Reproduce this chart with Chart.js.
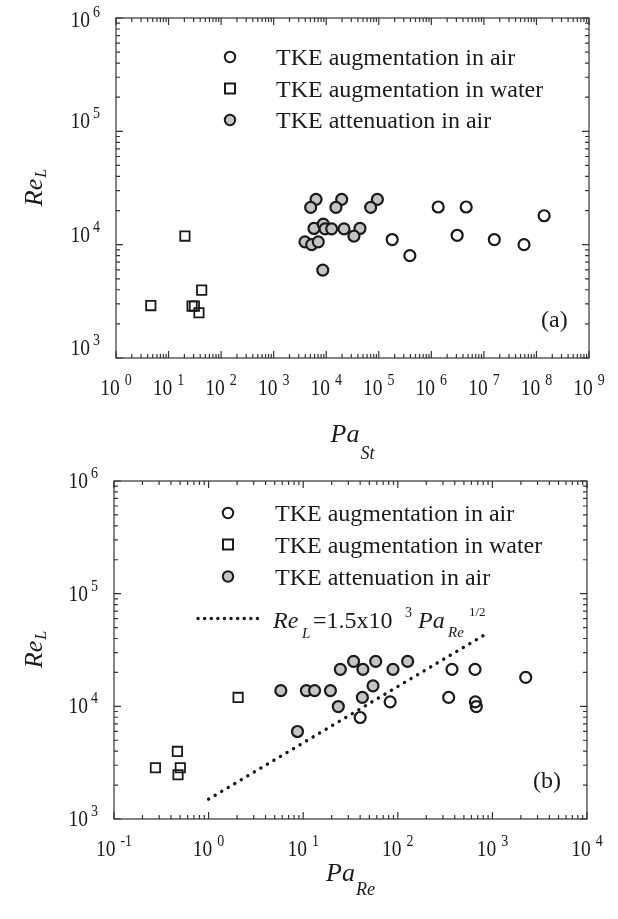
<!DOCTYPE html>
<html>
<head>
<meta charset="utf-8">
<script src="https://cdn.jsdelivr.net/npm/chart.js@4/dist/chart.umd.min.js"></script>
<style>
body { margin: 0; background: #fff; }
canvas { position: absolute; left: 0; }
</style>
</head>
<body>
<canvas id="chartA" width="618" height="460" style="top:0"></canvas>
<canvas id="chartB" width="618" height="459" style="top:460px"></canvas>
<script>
// panel (a): Re_L vs Pa_St
const aAirUpX = [1.8e5, 3.9e5, 1.35e6, 3.1e6, 4.6e6, 1.58e7, 5.8e7, 1.4e8];
const aAirUpY = [1.11e4, 8.0e3, 2.15e4, 1.21e4, 2.15e4, 1.11e4, 1.0e4, 1.8e4];
const aWaterX = [4.6, 20.5, 28, 31, 37.9, 42.7];
const aWaterY = [2.9e3, 1.19e4, 2.87e3, 2.87e3, 2.51e3, 3.97e3];
const aAirDownX = [6.4e3, 5.06e3, 1.97e4, 1.53e4, 9.4e4, 7.0e4, 5.85e3, 8.8e3, 9.5e3, 1.27e4, 2.18e4, 4.39e4, 3.37e4, 3.94e3, 5.3e3, 7.06e3, 8.6e3];
const aAirDownY = [2.51e4, 2.13e4, 2.51e4, 2.13e4, 2.51e4, 2.13e4, 1.39e4, 1.52e4, 1.38e4, 1.38e4, 1.38e4, 1.39e4, 1.19e4, 1.06e4, 1.0e4, 1.06e4, 5.97e3];

// panel (b): Re_L vs Pa_Re
const bAirUpX = [40, 83, 345, 374, 655, 660, 676, 2250];
const bAirUpY = [7.96e3, 1.096e4, 1.2e4, 2.13e4, 2.13e4, 1.096e4, 9.96e3, 1.81e4];
const bWaterX = [0.274, 0.468, 0.502, 0.475, 2.05];
const bWaterY = [2.85e3, 3.98e3, 2.85e3, 2.47e3, 1.2e4];
const bAirDownX = [5.8, 10.8, 13.2, 19.4, 8.7, 23.5, 24.7, 34.1, 42.8, 42.2, 54.7, 58.4, 89, 127];
const bAirDownY = [1.38e4, 1.38e4, 1.38e4, 1.38e4, 5.98e3, 9.96e3, 2.13e4, 2.51e4, 2.13e4, 1.2e4, 1.52e4, 2.51e4, 2.13e4, 2.51e4];
const bFitX = [1, 900];
const bFitY = [1500, 45000];

const legendNames = ["TKE augmentation in air", "TKE augmentation in water", "TKE attenuation in air"];

const serif = '"Liberation Serif", "Times New Roman", serif';
const ink = "#1a1a1a";
const grey = "#c4c4c4";

function pts(xs, ys) {
    return xs.map((x, i) => ({ x: x, y: ys[i] }));
}

function markerSets(upX, upY, waterX, waterY, downX, downY) {
    return [
        { label: legendNames[0], data: pts(upX, upY), pointStyle: "circle", pointRadius: 5.5,
          borderWidth: 2.2, borderColor: ink, backgroundColor: "rgba(255,255,255,0)" },
        { label: legendNames[1], data: pts(waterX, waterY), pointStyle: "rect", pointRadius: 6.6,
          borderWidth: 1.8, borderColor: ink, backgroundColor: "rgba(255,255,255,0)" },
        { label: legendNames[2], data: pts(downX, downY), pointStyle: "circle", pointRadius: 5.5,
          borderWidth: 2.2, borderColor: ink, backgroundColor: grey }
    ];
}

function width(ctx, str, size, italic) {
    ctx.save();
    ctx.font = (italic ? "italic " : "") + size + "px " + serif;
    const w = ctx.measureText(str).width;
    ctx.restore();
    return w;
}

function text(ctx, str, x, y, size, italic, sy) {
    ctx.save();
    ctx.font = (italic ? "italic " : "") + size + "px " + serif;
    ctx.translate(x, y);
    ctx.scale(1, sy || 1);
    ctx.fillText(str, 0, 0);
    ctx.restore();
}

function power(ctx, exp, x, y, align, gap) {
    const wb = width(ctx, "10", 19.5);
    const we = width(ctx, exp, 14);
    const total = wb + gap + we;
    const x0 = align === "right" ? x - total : x - total / 2;
    text(ctx, "10", x0, y, 19.5, false, 1.18);
    text(ctx, exp, x0 + wb + gap, y - 10, 14, false, 1.12);
}

function logTicks(ctx, scale, lo, hi, horizontal, area) {
    for (let e = lo; e <= hi; e++) {
        for (let m = 1; m <= 9; m++) {
            if (e === hi && m > 1) break;
            const p = scale.getPixelForValue(m * Math.pow(10, e));
            const len = m === 1 ? 7 : 4;
            ctx.beginPath();
            if (horizontal) {
                ctx.moveTo(p, area.bottom); ctx.lineTo(p, area.bottom - len);
                ctx.moveTo(p, area.top); ctx.lineTo(p, area.top + len);
            } else {
                ctx.moveTo(area.left, p); ctx.lineTo(area.left + len, p);
                ctx.moveTo(area.right, p); ctx.lineTo(area.right - len, p);
            }
            ctx.stroke();
        }
    }
}

function legend(ctx, mx, tx, ys, base) {
    ctx.lineWidth = 2;
    ctx.strokeStyle = ink;
    ctx.beginPath(); ctx.arc(mx, ys[0], 5.2, 0, Math.PI * 2); ctx.stroke();
    ctx.strokeRect(mx - 5, ys[1] - 5, 10, 10);
    ctx.beginPath(); ctx.arc(mx, ys[2], 5.2, 0, Math.PI * 2);
    ctx.fillStyle = grey; ctx.fill(); ctx.stroke();
    ctx.fillStyle = ink;
    for (let i = 0; i < 3; i++) text(ctx, legendNames[i], tx, ys[i] + base, 24);
}

function decor(p) {
    return {
        id: "decor",
        afterDraw(chart) {
            const ctx = chart.ctx;
            const area = chart.chartArea;
            ctx.save();
            ctx.strokeStyle = "#333";
            ctx.lineWidth = 1.2;
            ctx.strokeRect(area.left, area.top, area.right - area.left, area.bottom - area.top);
            logTicks(ctx, chart.scales.x, p.xExp[0], p.xExp[1], true, area);
            logTicks(ctx, chart.scales.y, p.yExp[0], p.yExp[1], false, area);

            ctx.fillStyle = ink;
            for (let e = p.xExp[0]; e <= p.xExp[1]; e++) {
                power(ctx, String(e), chart.scales.x.getPixelForValue(Math.pow(10, e)), area.bottom + 37, "center", 5);
            }
            for (let e = p.yExp[0]; e <= p.yExp[1]; e++) {
                let y = chart.scales.y.getPixelForValue(Math.pow(10, e)) + p.yShift;
                y = Math.max(y, p.yMinBase);
                power(ctx, String(e), area.left - 16, y, "right", 3);
            }

            // y title, rotated
            const midY = (area.top + area.bottom) / 2;
            ctx.save();
            ctx.translate(42, midY);
            ctx.rotate(-Math.PI / 2);
            const wRe = width(ctx, "Re", 26, true);
            const wL = width(ctx, "L", 16, true);
            text(ctx, "Re", -(wRe + wL) / 2, 0, 26, true);
            text(ctx, "L", -(wRe + wL) / 2 + wRe + 1, 4, 16, true);
            ctx.restore();

            // x title
            const midX = (area.left + area.right) / 2;
            const wPa = width(ctx, "Pa", 26, true);
            const wSub = width(ctx, p.sub, 18, true);
            const x0 = midX - (wPa + wSub + 1) / 2;
            text(ctx, "Pa", x0, area.bottom + p.titleBase, 26, true);
            text(ctx, p.sub, x0 + wPa + 1, area.bottom + p.titleBase + p.subDrop, 18, true);

            text(ctx, p.tag, p.tagX, area.bottom - 31, 24);

            legend(ctx, p.legX, p.legTextX, p.legY, 8);
            if (p.equation) p.equation(ctx);
            ctx.restore();
        }
    };
}

function makeChart(id, sets, p) {
    const ctx = document.getElementById(id).getContext("2d");
    return new Chart(ctx, {
        type: "scatter",
        data: { datasets: sets },
        options: {
            responsive: false,
            animation: false,
            devicePixelRatio: 1,
            layout: { padding: p.pad },
            plugins: { legend: { display: false }, tooltip: { enabled: false } },
            scales: {
                x: { type: "logarithmic", display: false, min: Math.pow(10, p.xExp[0]), max: Math.pow(10, p.xExp[1]) },
                y: { type: "logarithmic", display: false, min: Math.pow(10, p.yExp[0]), max: Math.pow(10, p.yExp[1]) }
            }
        },
        plugins: [decor(p)]
    });
}

makeChart("chartA", markerSets(aAirUpX, aAirUpY, aWaterX, aWaterY, aAirDownX, aAirDownY), {
    pad: { left: 116, right: 29, top: 18, bottom: 102 },
    xExp: [0, 9], yExp: [3, 6], yShift: -3, yMinBase: 27,
    sub: "St", titleBase: 84, subDrop: 17,
    tag: "(a)", tagX: 541,
    legX: 230, legTextX: 276, legY: [57, 88.5, 120]
});

const fitSet = {
    type: "line", label: "fit", data: pts(bFitX, bFitY), showLine: true, pointRadius: 0,
    borderColor: ink, borderWidth: 3.4, borderDash: [0.1, 7.5], borderCapStyle: "round", fill: false
};

makeChart("chartB", [fitSet].concat(markerSets(bAirUpX, bAirUpY, bWaterX, bWaterY, bAirDownX, bAirDownY)), {
    pad: { left: 114, right: 31, top: 21, bottom: 100 },
    xExp: [-1, 4], yExp: [3, 6], yShift: 7, yMinBase: 0,
    sub: "Re", titleBase: 62, subDrop: 14,
    tag: "(b)", tagX: 533,
    legX: 228, legTextX: 275, legY: [53, 84.5, 116.5],
    equation(ctx) {
        ctx.save();
        ctx.strokeStyle = ink;
        ctx.lineWidth = 3.4;
        ctx.lineCap = "round";
        ctx.setLineDash([0.1, 6.5]);
        ctx.beginPath(); ctx.moveTo(198, 158.5); ctx.lineTo(259, 158.5); ctx.stroke();
        ctx.restore();
        const b = 168;
        text(ctx, "Re", 273, b, 24, true);
        text(ctx, "L", 302, b + 10, 15, true);
        text(ctx, "=1.5x10", 313, b, 24);
        text(ctx, "3", 405, b - 11, 14);
        text(ctx, "Pa", 418, b, 24, true);
        text(ctx, "Re", 448, b + 9, 15, true);
        text(ctx, "1/2", 469, b - 12, 13);
    }
});
</script>
</body>
</html>
